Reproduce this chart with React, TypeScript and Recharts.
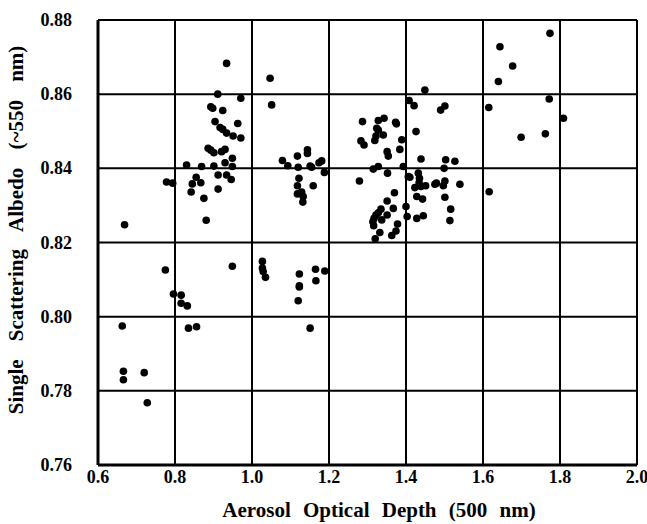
import { ScatterChart, Scatter, XAxis, YAxis, CartesianGrid, Label } from "recharts";

// [aerosol optical depth, single scattering albedo], grouped by AOD column
const aod06to08: [number, number][] = [
  [0.669, 0.8248], [0.663, 0.7975], [0.666, 0.7853], [0.666, 0.783], [0.72, 0.7849],
  [0.728, 0.7768], [0.775, 0.8126], [0.778, 0.8363], [0.794, 0.836], [0.796, 0.8061],
];

const aod08to10: [number, number][] = [
  [0.816, 0.8058], [0.816, 0.8036], [0.832, 0.8029], [0.835, 0.7969], [0.856, 0.7973],
  [0.83, 0.8409], [0.869, 0.8405], [0.901, 0.8406], [0.93, 0.8415], [0.949, 0.8405],
  [0.855, 0.8376], [0.845, 0.8358], [0.867, 0.8361], [0.842, 0.8336], [0.875, 0.8319],
  [0.881, 0.826], [0.912, 0.8382], [0.934, 0.8382], [0.946, 0.837], [0.912, 0.8344],
  [0.949, 0.8136], [0.934, 0.8683], [0.911, 0.86], [0.971, 0.8589], [0.893, 0.8566],
  [0.898, 0.8562], [0.924, 0.8556], [0.904, 0.8526], [0.963, 0.8521], [0.917, 0.851],
  [0.924, 0.8505], [0.934, 0.8495], [0.951, 0.8487], [0.971, 0.8482], [0.886, 0.8454],
  [0.893, 0.8449], [0.901, 0.8442], [0.921, 0.8445], [0.93, 0.8451], [0.949, 0.8427],
];

const aod10to12: [number, number][] = [
  [1.047, 0.8643], [1.051, 0.8571], [1.027, 0.8149], [1.027, 0.8131], [1.029, 0.8122],
  [1.035, 0.8106], [1.144, 0.845], [1.144, 0.844], [1.118, 0.8433], [1.079, 0.8421],
  [1.093, 0.8407], [1.12, 0.8403], [1.151, 0.8406], [1.155, 0.8403], [1.174, 0.8415],
  [1.181, 0.842], [1.188, 0.8389], [1.122, 0.8373], [1.118, 0.8353], [1.159, 0.8353],
  [1.118, 0.8331], [1.129, 0.8336], [1.133, 0.8324], [1.132, 0.8309], [1.123, 0.8115],
  [1.123, 0.8083], [1.123, 0.808], [1.165, 0.8128], [1.189, 0.8123], [1.166, 0.8097],
  [1.12, 0.8043], [1.151, 0.7969],
];

const aod12to16: [number, number][] = [
  [1.287, 0.8526], [1.328, 0.8529], [1.343, 0.8535], [1.373, 0.8524], [1.375, 0.852],
  [1.324, 0.8508], [1.328, 0.8503], [1.322, 0.8487], [1.341, 0.849], [1.319, 0.8475],
  [1.283, 0.8474], [1.291, 0.8463], [1.389, 0.8477], [1.351, 0.8445], [1.354, 0.8433],
  [1.384, 0.8451], [1.408, 0.8583], [1.421, 0.8569], [1.449, 0.8611], [1.49, 0.8557],
  [1.501, 0.8568], [1.426, 0.8499], [1.439, 0.8425], [1.503, 0.8423], [1.527, 0.8419],
  [1.499, 0.84], [1.328, 0.8405], [1.315, 0.8398], [1.393, 0.8405], [1.352, 0.8387],
  [1.406, 0.8378], [1.279, 0.8366], [1.41, 0.8376], [1.432, 0.8387], [1.435, 0.8373],
  [1.434, 0.8361], [1.423, 0.8348], [1.439, 0.8351], [1.451, 0.8353], [1.475, 0.8357],
  [1.479, 0.836], [1.497, 0.8353], [1.501, 0.8366], [1.54, 0.8357], [1.37, 0.8334],
  [1.428, 0.8324], [1.443, 0.8317], [1.501, 0.8322], [1.351, 0.8312], [1.367, 0.8292],
  [1.4, 0.8297], [1.516, 0.829], [1.335, 0.829], [1.328, 0.828], [1.322, 0.8274],
  [1.317, 0.8265], [1.314, 0.8256], [1.316, 0.8245], [1.351, 0.8274], [1.337, 0.8261],
  [1.403, 0.827], [1.428, 0.8265], [1.445, 0.8272], [1.514, 0.8259], [1.378, 0.825],
  [1.374, 0.8231], [1.363, 0.8219], [1.332, 0.8227], [1.32, 0.821],
];

const aod16to18: [number, number][] = [
  [1.774, 0.8764], [1.644, 0.8728], [1.677, 0.8676], [1.64, 0.8634], [1.615, 0.8564],
  [1.772, 0.8587], [1.809, 0.8535], [1.699, 0.8484], [1.762, 0.8493], [1.616, 0.8337],
];

const xTicks = [0.6, 0.8, 1.0, 1.2, 1.4, 1.6, 1.8, 2.0];
const yTicks = [0.76, 0.78, 0.8, 0.82, 0.84, 0.86, 0.88];

const points = [...aod06to08, ...aod08to10, ...aod10to12, ...aod12to16, ...aod16to18].map(
  ([aod, ssa]) => ({ aod, ssa })
);

const font = "'Liberation Serif', 'Times New Roman', serif";

const XTick = ({ x, y, payload }: any) => (
  <text x={x} y={y + 16} textAnchor="middle" fontFamily={font} fontWeight={700} fontSize={18} fill="#000">
    {payload.value.toFixed(1)}
  </text>
);

const YTick = ({ x, y, payload }: any) => (
  <text x={x - 24} y={y + 6} textAnchor="end" fontFamily={font} fontWeight={700} fontSize={18} fill="#000">
    {payload.value.toFixed(2)}
  </text>
);

const Dot = (props: any) => <circle cx={props.cx} cy={props.cy} r={3.8} fill="#000" />;

export default function App() {
  return (
    <div style={{ position: "absolute", left: 0, top: 0, background: "#fff", fontFamily: font, fontWeight: 700 }}>
      <ScatterChart width={647} height={524} margin={{ top: 20, right: 10, bottom: 0, left: 0 }}>
        <CartesianGrid stroke="#000" strokeWidth={2} />
        <XAxis
          type="number"
          dataKey="aod"
          domain={[0.6, 2.0]}
          ticks={xTicks}
          height={59}
          tick={<XTick />}
          tickLine={false}
          tickSize={0}
          axisLine={{ stroke: "#000", strokeWidth: 3 }}
        >
          <Label
            content={() => (
              <text
                x={379}
                y={517}
                textAnchor="middle"
                fontFamily={font}
                fontWeight={700}
                fontSize={21}
                style={{ wordSpacing: 7 }}
              >
                Aerosol Optical Depth (500 nm)
              </text>
            )}
          />
        </XAxis>
        <YAxis
          type="number"
          dataKey="ssa"
          domain={[0.76, 0.88]}
          ticks={yTicks}
          width={98}
          tick={<YTick />}
          tickLine={false}
          tickSize={0}
          axisLine={{ stroke: "#000", strokeWidth: 3 }}
        >
          <Label
            content={() => (
              <text
                x={23}
                y={230}
                textAnchor="middle"
                transform="rotate(-90, 23, 230)"
                fontFamily={font}
                fontWeight={700}
                fontSize={21}
                style={{ wordSpacing: 13 }}
              >
                Single Scattering Albedo (~550 nm)
              </text>
            )}
          />
        </YAxis>
        <Scatter data={points} shape={Dot} isAnimationActive={false} />
      </ScatterChart>
    </div>
  );
}
